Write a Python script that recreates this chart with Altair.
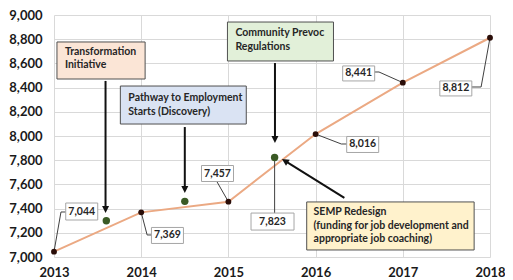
import math
import altair as alt
import pandas as pd

# ---------------- data ----------------
years = [2013, 2014, 2015, 2016, 2017, 2018]
counts = [7044, 7369, 7457, 8016, 8441, 8812]
event_years = [2013.6, 2014.5, 2015.53]
event_values = [7300, 7460, 7823]
y_ticks = list(range(7000, 9001, 200))
x_ticks = years

# ---------------- geometry ----------------
W, H = 436, 242
XD = [2013, 2018]
YD = [7000, 9000]
PPX = W / (XD[1] - XD[0])   # px per year
PPY = H / (YD[1] - YD[0])   # px per count
FONT = "Lato"

xs = alt.Scale(domain=XD, nice=False, zero=False)
ys = alt.Scale(domain=YD, nice=False, zero=False)
x_axis = alt.Axis(values=x_ticks, format="d", grid=True, ticks=False,
                  domain=False, labelPadding=9, labelFlush=False, title=None)
y_axis = alt.Axis(values=y_ticks, format=",d", grid=True, ticks=False,
                  domain=False, labelPadding=12, title=None)

# value callouts: center of box (data units), box size (px), leader path
callouts = [
    dict(v=counts[0], cx=2013.318, cy=7376, w=32, h=17,
         path=[(years[0], counts[0]), (2013.080, 7372), (2013.136, 7372)]),
    dict(v=counts[1], cx=2014.301, cy=7178, w=32, h=16,
         path=[(years[1], counts[1]), (2014.068, 7182), (2014.125, 7182)]),
    dict(v=counts[2], cx=2014.875, cy=7690, w=32, h=16,
         path=[(years[2], counts[2]), (2014.864, 7628)]),
    dict(v=event_values[2], cx=2015.506, cy=7293, w=43, h=17,
         path=[(event_years[2], event_values[2]), (event_years[2], 7363)]),
    dict(v=counts[3], cx=2016.540, cy=7930, w=32, h=16,
         path=[(years[3], counts[3]), (2016.295, 7934), (2016.364, 7934)]),
    dict(v=counts[4], cx=2016.494, cy=8517, w=32, h=15,
         path=[(years[4], counts[4]), (2016.727, 8529), (2016.670, 8529)]),
    dict(v=counts[5], cx=2017.608, cy=8393, w=32, h=15,
         path=[(years[5], counts[5]), (2017.898, 8405), (2017.784, 8405)]),
]

notes = [
    dict(lines=["Transformation", "Initiative"], fill="#FBE5D6",
         x0=2013.034, x1=2014.045, y0=8471, y1=8777, tx=2013.125, ty=[8694, 8587],
         arrow=((2013.591, 8455), (2013.591, 7364))),
    dict(lines=["Pathway to Employment", "Starts (Discovery)"], fill="#DAE3F3",
         x0=2013.761, x1=2015.205, y0=8099, y1=8413, tx=2013.852, ty=[8314, 8198],
         arrow=((2014.5, 8074), (2014.5, 7529))),
    dict(lines=["Community Prevoc", "Regulations"], fill="#E2F0D9",
         x0=2014.989, x1=2016.205, y0=8620, y1=8942, tx=2015.080, ty=[8851, 8736],
         arrow=((2015.534, 8603), (2015.534, 7942))),
    dict(lines=["SEMP Redesign", "(funding for job development and",
                "appropriate job coaching)"], fill="#FFF2CC",
         x0=2015.898, x1=2017.818, y0=7058, y1=7455, tx=2015.977,
         ty=[7372, 7256, 7149],
         arrow=((2016.330, 7488), (2015.614, 7810))),
]

# ---------------- tables ----------------
main_df = pd.DataFrame({"year": years, "count": counts})
ev_df = pd.DataFrame({"year": event_years, "count": event_values})

box_rows, lbl_rows, lead_rows = [], [], []
for i, c in enumerate(callouts):
    hw = c["w"] / 2 / PPX
    hh = c["h"] / 2 / PPY
    box_rows.append(dict(x=c["cx"] - hw, x2=c["cx"] + hw, y=c["cy"] - hh, y2=c["cy"] + hh))
    lbl_rows.append(dict(x=c["cx"], y=c["cy"], t=f"{c['v']:,}"))
    for k, (px, py) in enumerate(c["path"]):
        lead_rows.append(dict(id=i, k=k, x=px, y=py))
box_df = pd.DataFrame(box_rows)
lbl_df = pd.DataFrame(lbl_rows)
lead_df = pd.DataFrame(lead_rows)

note_rows, note_txt, arrow_rows, head_rows = [], [], [], []
for n in notes:
    note_rows.append(dict(x=n["x0"], x2=n["x1"], y=n["y0"], y2=n["y1"], fill=n["fill"]))
    for line, ty in zip(n["lines"], n["ty"]):
        note_txt.append(dict(x=n["tx"], y=ty, t=line))
    (sx, sy), (tx, ty) = n["arrow"]
    dxp = (tx - sx) * PPX
    dyp = -(ty - sy) * PPY
    L = math.hypot(dxp, dyp)
    back = 5.0 / L
    ex = tx - (tx - sx) * back
    ey = ty - (ty - sy) * back
    arrow_rows.append(dict(x=sx, y=sy, x2=ex, y2=ey))
    ang = math.degrees(math.atan2(-dxp, dyp)) % 360
    head_rows.append(dict(x=tx, y=ty, a=ang))
note_df = pd.DataFrame(note_rows)
note_txt_df = pd.DataFrame(note_txt)
arrow_df = pd.DataFrame(arrow_rows)
head_df = pd.DataFrame(head_rows)

# ---------------- layers ----------------
X = lambda f="x": alt.X(f"{f}:Q", scale=xs, axis=x_axis, title=None)
Y = lambda f="y": alt.Y(f"{f}:Q", scale=ys, axis=y_axis, title=None)

base_line = alt.Chart(main_df).mark_line(color="#EBA983", strokeWidth=2).encode(
    x=X("year"), y=Y("count"))
main_pts = alt.Chart(main_df).mark_point(filled=True, color="#2A0D08", size=34, opacity=1).encode(
    x=X("year"), y=Y("count"))
ev_pts = alt.Chart(ev_df).mark_point(filled=True, color="#3A5A25", size=55, opacity=1).encode(
    x=X("year"), y=Y("count"))

leaders = alt.Chart(lead_df).mark_line(color="#404040", strokeWidth=1).encode(
    x=X(), y=Y(), detail="id:N", order="k:Q")
boxes = alt.Chart(box_df).mark_rect(fill="white", stroke="#A6A6A6", strokeWidth=1).encode(
    x=X(), x2="x2:Q", y=Y(), y2="y2:Q")
box_txt = alt.Chart(lbl_df).mark_text(font=FONT, fontSize=10.5, fontWeight="bold",
                                      color="#262626").encode(
    x=X(), y=Y(), text="t:N")

note_boxes = alt.Chart(note_df).mark_rect(stroke="#505050", strokeWidth=1).encode(
    x=X(), x2="x2:Q", y=Y(), y2="y2:Q", fill=alt.Fill("fill:N", scale=None))
note_text = alt.Chart(note_txt_df).mark_text(font=FONT, fontSize=10.5, fontWeight="bold",
                                             align="left", baseline="middle",
                                             color="#262626").encode(
    x=X(), y=Y(), text="t:N")
arrows = alt.Chart(arrow_df).mark_rule(color="#111111", strokeWidth=2).encode(
    x=X(), y=Y(), x2="x2:Q", y2="y2:Q")
heads = alt.Chart(head_df).mark_point(shape="M0,0L-0.5,-1L0.5,-1Z", filled=True,
                                      color="#111111", size=196, opacity=1).encode(
    x=X(), y=Y(), angle=alt.Angle("a:Q", scale=None))

chart = alt.layer(
    base_line, leaders, main_pts, ev_pts, boxes, box_txt,
    note_boxes, note_text, arrows, heads
).properties(
    width=W, height=H,
    autosize=alt.AutoSizeParams(type="none"),
    padding={"left": 46, "top": 7, "right": 15, "bottom": 22},
).configure_view(stroke=None).configure_axis(
    gridColor="#D9D9D9", gridWidth=1,
    labelFont=FONT, labelFontSize=13, labelFontWeight="bold", labelColor="#1A1A1A",
)

chart.save("out.html", embed_options={"renderer": "svg", "actions": False})
